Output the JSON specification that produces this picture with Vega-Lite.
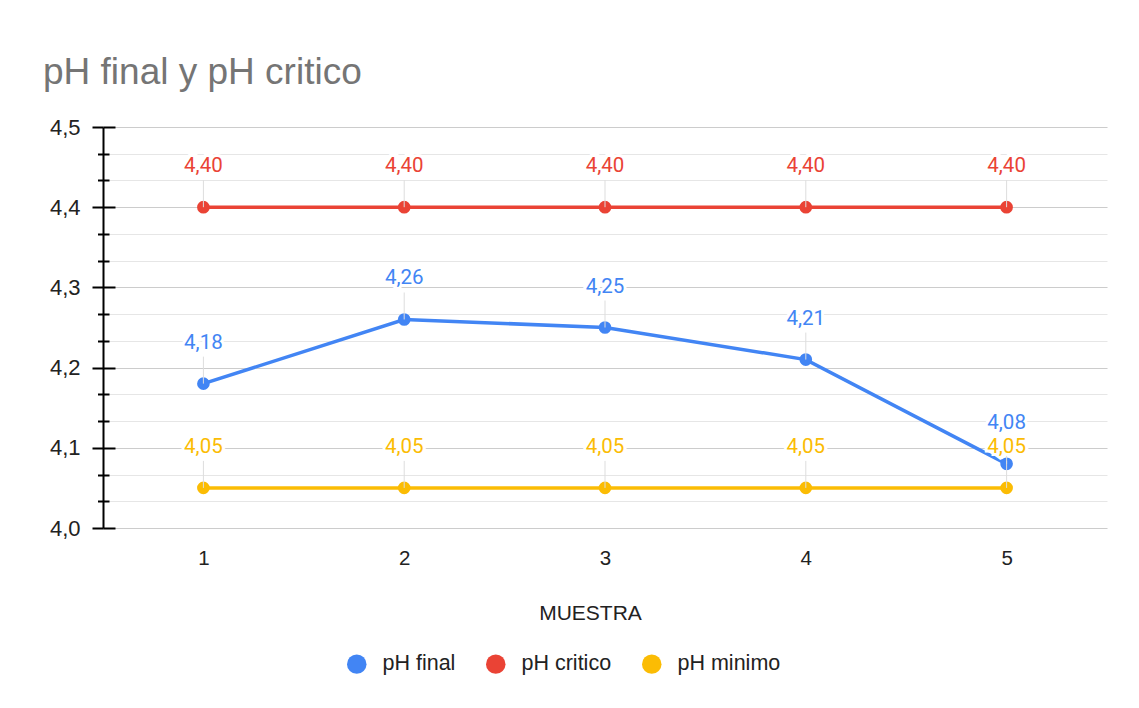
{
  "$schema": "https://vega.github.io/schema/vega-lite/v6.json",
  "width": 1004,
  "height": 401,
  "autosize": {"type": "none"},
  "padding": {"left": 103, "top": 127, "right": 32, "bottom": 180},
  "background": "white",
  "title": {
    "text": "pH final y pH critico",
    "anchor": "start",
    "frame": "group",
    "dx": -60,
    "offset": -5,
    "baseline": "alphabetic",
    "font": "Liberation Sans",
    "fontSize": 37,
    "fontWeight": "normal",
    "color": "#757575"
  },
  "config": {
    "locale": {"number": {"decimal": ",", "thousands": ".", "grouping": [3], "currency": ["", " €"]}},
    "view": {"stroke": null},
    "font": "Liberation Sans",
    "axis": {"labelFont": "Liberation Sans", "titleFont": "Liberation Sans"}
  },
  "data": {
    "values": [
      {"muestra": "1", "serie": "pH final", "ph": 4.18},
      {"muestra": "2", "serie": "pH final", "ph": 4.26},
      {"muestra": "3", "serie": "pH final", "ph": 4.25},
      {"muestra": "4", "serie": "pH final", "ph": 4.21},
      {"muestra": "5", "serie": "pH final", "ph": 4.08},
      {"muestra": "1", "serie": "pH critico", "ph": 4.40},
      {"muestra": "2", "serie": "pH critico", "ph": 4.40},
      {"muestra": "3", "serie": "pH critico", "ph": 4.40},
      {"muestra": "4", "serie": "pH critico", "ph": 4.40},
      {"muestra": "5", "serie": "pH critico", "ph": 4.40},
      {"muestra": "1", "serie": "pH minimo", "ph": 4.05},
      {"muestra": "2", "serie": "pH minimo", "ph": 4.05},
      {"muestra": "3", "serie": "pH minimo", "ph": 4.05},
      {"muestra": "4", "serie": "pH minimo", "ph": 4.05},
      {"muestra": "5", "serie": "pH minimo", "ph": 4.05}
    ]
  },
  "encoding": {
    "x": {
      "field": "muestra",
      "type": "ordinal",
      "scale": {"type": "point", "padding": 0.5},
      "axis": {
        "title": "MUESTRA",
        "labelAngle": 0,
        "labelFontSize": 20.5,
        "labelColor": "#222222",
        "labelPadding": 20,
        "ticks": false,
        "tickSize": 0,
        "domain": false,
        "grid": false,
        "titleFontSize": 21,
        "titleFontWeight": "normal",
        "titleColor": "#222222",
        "titlePadding": 34,
        "titleX": 487,
        "titleAlign": "center"
      }
    },
    "color": {
      "field": "serie",
      "type": "nominal",
      "scale": {"domain": ["pH final", "pH critico", "pH minimo"], "range": ["#4285F4", "#EA4335", "#FBBC04"]},
      "legend": {
        "title": null,
        "orient": "none",
        "legendX": 243,
        "legendY": 526,
        "direction": "horizontal",
        "symbolType": "circle",
        "symbolSize": 380,
        "symbolStrokeWidth": 0,
        "labelFontSize": 21.5,
        "labelColor": "#222222",
        "labelOffset": 15,
        "columnPadding": 29
      }
    }
  },
  "layer": [
    {
      "mark": {"type": "line", "strokeWidth": 3.5},
      "encoding": {
        "y": {
          "field": "ph", "type": "quantitative",
          "scale": {"domain": [4.0, 4.5], "zero": false, "nice": false},
          "axis": {
            "title": null, "orient": "left",
            "values": [4.0, 4.1, 4.2, 4.3, 4.4, 4.5],
            "format": ".1f",
            "labelFontSize": 22, "labelColor": "#222222", "labelPadding": 12,
            "domain": true, "domainColor": "#000000", "domainWidth": 2,
            "ticks": true, "tickColor": "#000000", "tickSize": 11, "tickWidth": 2,
            "grid": true, "gridColor": "#cccccc", "gridWidth": 1.2
          }
        }
      }
    },
    {
      "mark": {"type": "point", "filled": true, "opacity": 1, "size": 160},
      "encoding": {
        "y": {
          "field": "ph", "type": "quantitative",
          "axis": {
            "title": null, "orient": "left",
            "values": [4.0333, 4.0667, 4.1333, 4.1667, 4.2333, 4.2667, 4.3333, 4.3667, 4.4333, 4.4667],
            "labels": false, "domain": false,
            "ticks": true, "tickColor": "#000000", "tickSize": 5.5, "tickWidth": 2,
            "grid": true, "gridColor": "#e6e6e6", "gridWidth": 1
          }
        }
      }
    },
    {
      "mark": {"type": "rule", "color": "#dddddd", "strokeWidth": 1, "y2Offset": -27},
      "encoding": {
        "y": {
          "field": "ph", "type": "quantitative",
          "axis": {
            "title": null, "orient": "left",
            "values": [4.0, 4.1, 4.2, 4.3, 4.4, 4.5],
            "labels": false, "domain": false, "grid": false,
            "ticks": true, "tickColor": "#000000", "tickSize": -12, "tickWidth": 2
          }
        },
        "y2": {"field": "ph"},
        "color": {"value": "#dddddd"}
      }
    },
    {
      "mark": {"type": "text", "dy": -41, "fontSize": 20.5, "baseline": "middle", "stroke": "white", "strokeWidth": 6, "fill": "white", "font": "Roboto"},
      "encoding": {
        "y": {
          "field": "ph", "type": "quantitative",
          "axis": {
            "title": null, "orient": "left",
            "values": [4.0333, 4.0667, 4.1333, 4.1667, 4.2333, 4.2667, 4.3333, 4.3667, 4.4333, 4.4667],
            "labels": false, "domain": false, "grid": false,
            "ticks": true, "tickColor": "#000000", "tickSize": -6, "tickWidth": 2
          }
        },
        "text": {"field": "ph", "type": "quantitative", "format": ".2f"},
        "color": {"value": "white"}
      }
    },
    {
      "mark": {"type": "text", "dy": -41, "fontSize": 20.5, "baseline": "middle", "font": "Roboto"},
      "encoding": {
        "y": {"field": "ph", "type": "quantitative", "axis": null},
        "text": {"field": "ph", "type": "quantitative", "format": ".2f"}
      }
    }
  ],
  "resolve": {"axis": {"y": "independent"}}
}
